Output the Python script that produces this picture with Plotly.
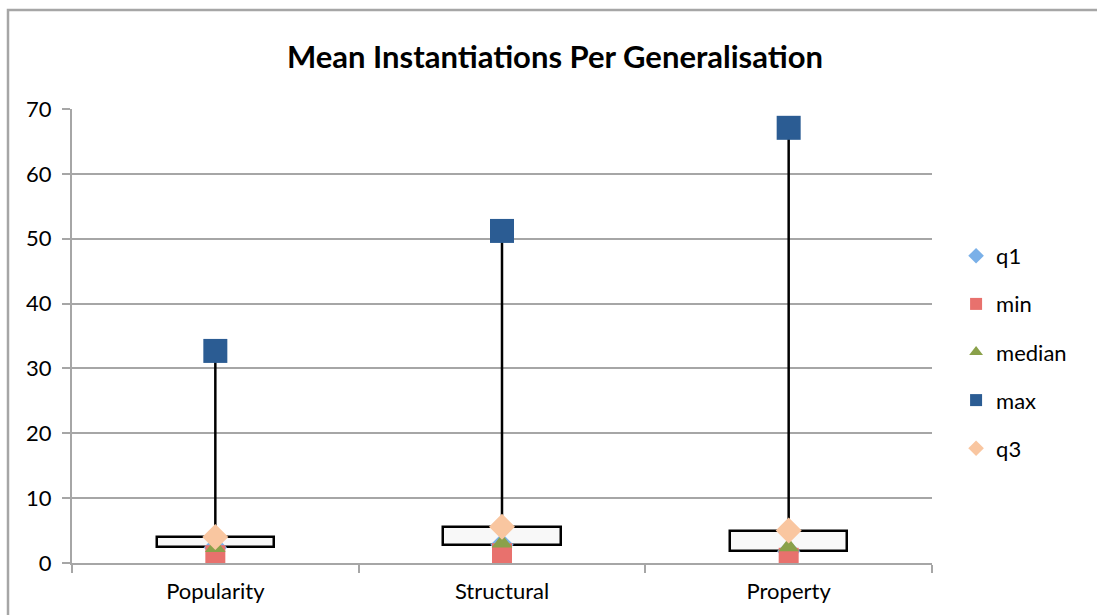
import plotly.graph_objects as go

# Five-number summaries per generalisation strategy
categories = ["Popularity", "Structural", "Property"]
q1_vals = [2.4, 2.8, 1.8]
min_vals = [1.2, 1.5, 0.8]
median_vals = [2.4, 3.1, 2.5]
max_vals = [32.7, 51.2, 67.1]
q3_vals = [4.0, 5.6, 5.0]

W, H = 1097, 615
ML, MR, MT, MB = 72, 165, 109, 52
PW, PH = W - ML - MR, H - MT - MB

font_family = "Lato, 'Open Sans', sans-serif"
grid_col = "#a6a6a6"

fig = go.Figure()

# High-low whiskers from min to max
wx, wy = [], []
for c, lo, hi in zip(categories, min_vals, max_vals):
    wx += [c, c, None]
    wy += [lo, hi, None]
fig.add_trace(go.Scatter(x=wx, y=wy, mode="lines",
                         line=dict(color="black", width=2.5),
                         showlegend=False, hoverinfo="skip"))

# Up-down box between q1 and q3
fig.add_trace(go.Bar(x=categories,
                     y=[b - a for a, b in zip(q1_vals, q3_vals)],
                     base=q1_vals, width=0.41,
                     marker=dict(color="#f8f8f8", line=dict(color="black", width=2.5)),
                     showlegend=False, hoverinfo="skip"))

series = [
    ("q1", q1_vals, "diamond", "#7ab0e8", 18),
    ("min", min_vals, "square", "#e8716d", 20),
    ("median", median_vals, "triangle-up", "#8aa14a", 18),
    ("max", max_vals, "square", "#2b5c93", 24),
    ("q3", q3_vals, "diamond", "#f9c6a0", 20),
]
for i, (name, vals, sym, col, sz) in enumerate(series):
    fig.add_trace(go.Scatter(x=categories, y=vals, mode="markers", name=name,
                             legendgroup=name,
                             marker=dict(symbol=sym, color=col, size=sz,
                                         line=dict(width=0))))

# Outer chart frame
fig.add_shape(type="rect", xref="paper", yref="paper",
              x0=(8 - ML) / PW, x1=(W + 20 - ML) / PW,
              y0=-0.3, y1=(H - 10 - MB) / PH,
              line=dict(color="#a6a6a6", width=2.5), fillcolor="rgba(0,0,0,0)",
              layer="below")

fig.update_layout(
    width=W, height=H,
    margin=dict(l=ML, r=MR, t=MT, b=MB),
    paper_bgcolor="white", plot_bgcolor="white",
    font=dict(family=font_family, size=22, color="black"),
    title=dict(text="<b>Mean Instantiations Per Generalisation</b>",
               x=(555) / W, xanchor="center", y=1 - 57 / H, yanchor="middle",
               font=dict(size=31, family=font_family, color="black")),
    bargap=0,
    legend=dict(x=1.028, xanchor="left", y=(H - MB - 352) / PH, yanchor="middle",
                tracegroupgap=16.5, font=dict(size=22), itemsizing="constant",
                itemwidth=30, bgcolor="rgba(0,0,0,0)"),
    showlegend=True,
)
fig.update_xaxes(type="category", showgrid=False, showline=True,
                 linecolor=grid_col, linewidth=2, ticks="outside",
                 tickson="boundaries", ticklen=8, tickcolor=grid_col, tickwidth=2,
                 tickfont=dict(size=22), ticklabelstandoff=8, fixedrange=True)
fig.update_yaxes(range=[0, 70], dtick=10, showgrid=True, gridcolor=grid_col,
                 gridwidth=2, showline=True, linecolor=grid_col, linewidth=2,
                 ticks="outside", ticklen=8, tickcolor=grid_col, tickwidth=2,
                 tickfont=dict(size=22), ticklabelstandoff=6,
                 zeroline=False, fixedrange=True)

fig.write_html("out.html")
